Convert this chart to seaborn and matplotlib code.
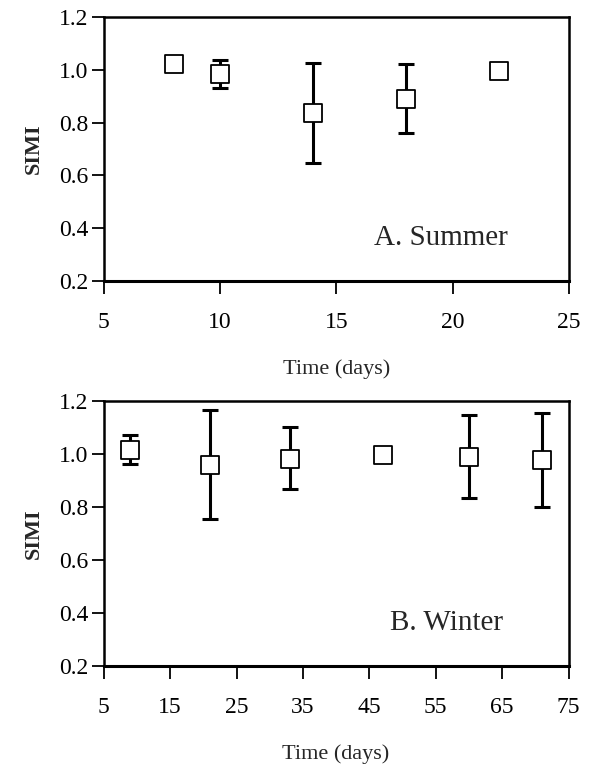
import numpy as np
import pandas as pd
import matplotlib
matplotlib.use("Agg")
import matplotlib.pyplot as plt
import seaborn as sns

# Summer series
summer_days = [8, 10, 14, 18, 22]
summer_simi = [1.02, 0.985, 0.835, 0.89, 0.995]
summer_lo = [np.nan, 0.93, 0.648, 0.759, np.nan]
summer_hi = [np.nan, 1.037, 1.026, 1.023, np.nan]

# Winter series
winter_days = [9, 21, 33, 47, 60, 71]
winter_simi = [1.016, 0.96, 0.982, 0.995, 0.991, 0.979]
winter_lo = [0.964, 0.756, 0.867, np.nan, 0.836, 0.80]
winter_hi = [1.074, 1.167, 1.102, np.nan, 1.148, 1.157]

sns.set_style("white")
plt.rcParams['font.family'] = ['Liberation Serif', 'DejaVu Serif']

fig = plt.figure(figsize=(6.1, 7.7), dpi=100)
axA = fig.add_axes([0.170, 0.635, 0.763, 0.343])
axB = fig.add_axes([0.170, 0.135, 0.762, 0.344])

def panel(ax, days, simi, lo, hi, xlim, xticks, label, lx, ly):
    df = pd.DataFrame({"day": days, "simi": simi, "lo": lo, "hi": hi})
    err = np.vstack([df.simi - df.lo, df.hi - df.simi])
    ax.errorbar(df.day, df.simi, yerr=err, fmt='none', ecolor='black',
                elinewidth=2.2, capsize=6, capthick=2.2, zorder=2)
    sns.scatterplot(data=df, x="day", y="simi", ax=ax, marker='s', s=180,
                    facecolor='white', edgecolor='black', linewidth=1.3,
                    zorder=3, legend=False)
    ax.set_xlim(*xlim)
    ax.set_ylim(0.2, 1.2)
    ax.set_xticks(xticks)
    ax.set_yticks([0.2, 0.4, 0.6, 0.8, 1.0, 1.2])
    ax.set_yticklabels(["0.2", "0.4", "0.6", "0.8", "1.0", "1.2"])
    ax.set_xlabel("Time (days)", fontsize=16, labelpad=19)
    ax.set_ylabel("SIMI", fontsize=16, labelpad=11, fontweight='bold')
    for s in ax.spines.values():
        s.set_linewidth(1.8)
        s.set_color('black')
    ax.spines['bottom'].set_linewidth(2.2)
    ax.tick_params(axis='both', which='major', direction='out', length=9,
                   width=1.3, labelsize=17, bottom=True, left=True,
                   top=False, right=False, colors='black')
    ax.tick_params(axis='x', pad=13)
    ax.tick_params(axis='y', pad=2)
    ax.text(lx, ly, label, transform=ax.transAxes, fontsize=21,
            ha='right', va='center')

panel(axA, summer_days, summer_simi, summer_lo, summer_hi, (5, 25),
      [5, 10, 15, 20, 25], "A. Summer", 0.869, 0.163)
panel(axB, winter_days, winter_simi, winter_lo, winter_hi, (5, 75),
      [5, 15, 25, 35, 45, 55, 65, 75], "B. Winter", 0.86, 0.162)

fig.savefig("out.png", dpi=100)
